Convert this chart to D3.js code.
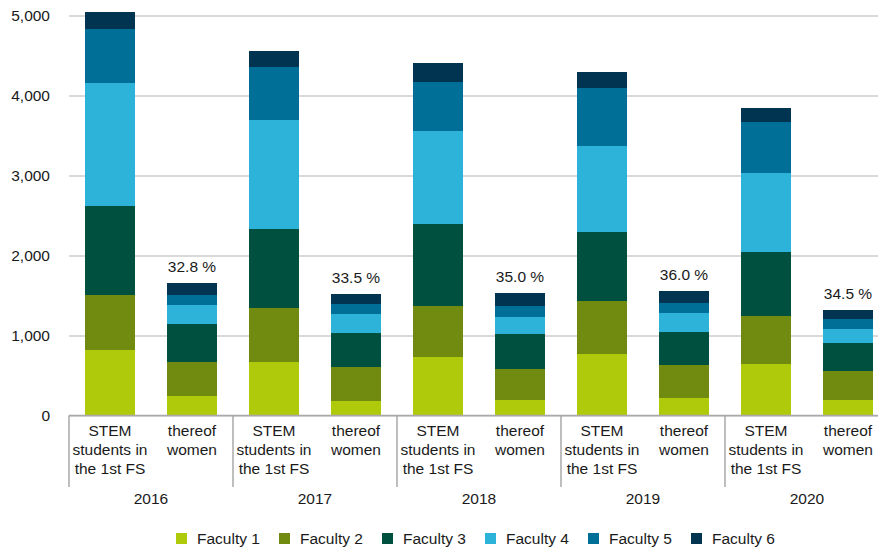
<!DOCTYPE html>
<html>
<head>
<meta charset="utf-8">
<script src="https://cdn.jsdelivr.net/npm/d3@7"></script>
<style>
  html, body { margin: 0; padding: 0; background: #ffffff; }
  svg { display: block; }
  text { font-family: "Liberation Sans", Arial, sans-serif; fill: #1a1a1a; }
</style>
</head>
<body>
<svg id="chart" width="878" height="551"></svg>
<script>
// ---- data ----
const years = ["2016", "2017", "2018", "2019", "2020"];
const categoryLabels = [["STEM", "students in", "the 1st FS"], ["thereof", "women"]];
const seriesNames = ["Faculty 1", "Faculty 2", "Faculty 3", "Faculty 4", "Faculty 5", "Faculty 6"];
const faculty1 = [819, 244, 669, 181, 731, 194, 769, 219, 644, 194];
const faculty2 = [691, 429, 679, 425, 638, 387, 662, 412, 600, 362];
const faculty3 = [1109, 475, 983, 425, 1025, 438, 863, 413, 800, 350];
const faculty4 = [1541, 237, 1367, 238, 1166, 212, 1075, 237, 987, 175];
const faculty5 = [671, 121, 658, 125, 609, 138, 725, 125, 638, 125];
const faculty6 = [213, 150, 200, 125, 237, 162, 200, 150, 175, 113];
const womenShare = ["32.8 %", "33.5 %", "35.0 %", "36.0 %", "34.5 %"];
const yTicks = [0, 1000, 2000, 3000, 4000, 5000];
const colors = ["#afca0b", "#718a10", "#00503f", "#2db2d9", "#006f98", "#003450"];

// ---- table ----
const seriesValues = [faculty1, faculty2, faculty3, faculty4, faculty5, faculty6];
const rows = [];
years.forEach((yr, yi) => {
  categoryLabels.forEach((lab, ci) => {
    const idx = yi * 2 + ci;
    const row = { key: yr + "-" + ci, year: yr, cat: ci, idx: idx };
    seriesNames.forEach((s, si) => { row[s] = seriesValues[si][idx]; });
    rows.push(row);
  });
});

const svg = d3.select("#chart");
const mLeft = 69, mRight = 889, mTop = 15.5, mBottom = 415.5;

const x = d3.scaleBand().domain(rows.map(d => d.key)).range([mLeft, mRight])
  .paddingInner(32 / 82).paddingOuter(16 / 82);
const xYear = d3.scaleBand().domain(years).range([mLeft, mRight]);
const y = d3.scaleLinear().domain([0, 5000]).range([mBottom, mTop]);
const color = d3.scaleOrdinal().domain(seriesNames).range(colors);

// gridlines + y labels
const yAxis = d3.axisLeft(y).tickValues(yTicks).tickFormat(d3.format(",")).tickSize(0).tickPadding(19);
const gy = svg.append("g").attr("transform", `translate(${mLeft},0)`).call(yAxis);
gy.attr("font-family", null).attr("font-size", null);
gy.select(".domain").remove();
gy.selectAll(".tick text")
  .style("font-size", "15.5px").style("fill", "#1a1a1a");
gy.selectAll(".tick").append("line")
  .attr("x1", 0).attr("x2", 878 - mLeft)
  .attr("stroke", "#b4b4b4").attr("stroke-width", 1.2);

// bars
const stack = d3.stack().keys(seriesNames);
const stacked = stack(rows);
svg.append("g").selectAll("g").data(stacked).join("g")
  .attr("fill", d => color(d.key))
  .selectAll("rect").data(d => d).join("rect")
  .attr("x", d => x(d.data.key))
  .attr("width", x.bandwidth())
  .attr("y", d => y(d[1]))
  .attr("height", d => y(d[0]) - y(d[1]))
  .attr("shape-rendering", "crispEdges");

// percent labels
const womenRows = rows.filter(d => d.cat === 1);
svg.append("g").selectAll("text").data(womenRows).join("text")
  .attr("x", d => x(d.key) + x.bandwidth() / 2)
  .attr("y", d => y(d3.sum(seriesNames, s => d[s])) - 11)
  .attr("text-anchor", "middle")
  .style("font-size", "15.5px")
  .text((d, i) => womenShare[i]);

// x axis line + separators
svg.append("line").attr("x1", mLeft).attr("x2", 878)
  .attr("y1", mBottom).attr("y2", mBottom)
  .attr("stroke", "#a8a8a8").attr("stroke-width", 1.5);
const seps = years.map(yr => xYear(yr)).concat([mRight]);
svg.append("g").selectAll("line").data(seps).join("line")
  .attr("x1", d => d).attr("x2", d => d)
  .attr("y1", mBottom).attr("y2", 487)
  .attr("stroke", "#a8a8a8").attr("stroke-width", 1.5);

// category labels
const catG = svg.append("g").selectAll("text").data(rows).join("text")
  .attr("text-anchor", "middle")
  .style("font-size", "15.5px");
catG.each(function(d) {
  const t = d3.select(this);
  categoryLabels[d.cat].forEach((line, li) => {
    t.append("tspan")
      .attr("x", x(d.key) + x.bandwidth() / 2)
      .attr("y", 436 + li * 18.8)
      .text(line);
  });
});

// year labels
svg.append("g").selectAll("text").data(years).join("text")
  .attr("x", d => xYear(d) + xYear.bandwidth() / 2)
  .attr("y", 503.5)
  .attr("text-anchor", "middle")
  .style("font-size", "15.5px")
  .text(d => d);

// legend
const lg = svg.append("g").selectAll("g").data(seriesNames).join("g")
  .attr("transform", (d, i) => `translate(${176 + i * 103},533)`);
lg.append("rect").attr("width", 11).attr("height", 11).attr("fill", d => color(d));
lg.append("text").attr("x", 21).attr("y", 11).style("font-size", "15.5px").text(d => d);
</script>
</body>
</html>
